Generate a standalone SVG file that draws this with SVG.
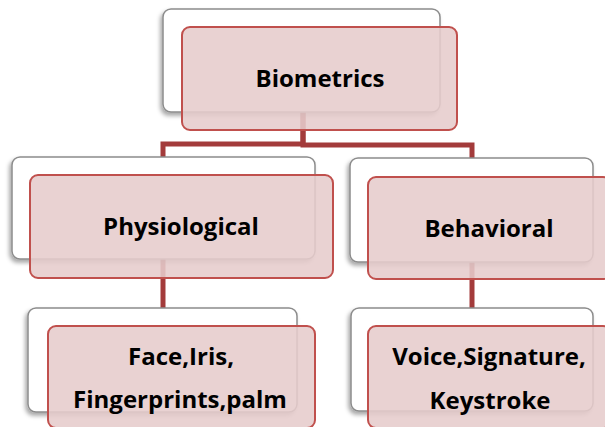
<svg xmlns="http://www.w3.org/2000/svg" width="605" height="427" viewBox="0 0 605 427">
<defs>
<filter id="sh" x="-10%" y="-10%" width="120%" height="130%">
<feDropShadow dx="-2" dy="3" stdDeviation="2" flood-color="#000" flood-opacity="0.35"/>
</filter>
</defs>
<style>
.back{fill:#fff;stroke:#8c8c8c;stroke-width:1.5;filter:url(#sh)}
.front{fill:#e6cccc;fill-opacity:0.88;stroke:#c0504d;stroke-width:2}
.lbl{font-family:"Open Sans","Liberation Sans",sans-serif;font-weight:bold;font-size:24px;fill:#000;text-anchor:middle}
.conn{fill:none;stroke:#a33b3b;stroke-width:5}
</style>
<rect width="605" height="427" fill="#fff"/>
<g id="connectors">
<path class="conn" d="M303 110 V144 H163 V160"/>
<path class="conn" d="M303 110 V145 H472 V160"/>
<path class="conn" d="M163 257 V310"/>
<path class="conn" d="M472 260 V310"/>
</g>
<g id="biometrics">
<rect class="back" x="163" y="9" width="277" height="103" rx="8"/>
<rect class="front" x="182" y="27" width="275" height="103" rx="8"/>
<text class="lbl" x="320" y="87">Biometrics</text>
</g>
<g id="physiological">
<rect class="back" x="12" y="157" width="303" height="102" rx="8"/>
<rect class="front" x="30" y="175" width="303" height="103" rx="8"/>
<text class="lbl" x="181" y="235">Physiological</text>
</g>
<g id="behavioral">
<rect class="back" x="350" y="158" width="243" height="104" rx="8"/>
<rect class="front" x="368" y="177" width="243" height="102" rx="8"/>
<text class="lbl" x="489" y="237">Behavioral</text>
</g>
<g id="physiological-examples">
<rect class="back" x="28" y="308" width="269" height="104" rx="8"/>
<rect class="front" x="48" y="326" width="267" height="102" rx="8"/>
<text class="lbl" x="181" y="365">Face,Iris,</text>
<text class="lbl" x="180" y="408">Fingerprints,palm</text>
</g>
<g id="behavioral-examples">
<rect class="back" x="351" y="308" width="242" height="103" rx="8"/>
<rect class="front" x="368" y="326" width="243" height="102" rx="8"/>
<text class="lbl" x="489" y="365">Voice,Signature,</text>
<text class="lbl" x="490" y="409">Keystroke</text>
</g>
</svg>
